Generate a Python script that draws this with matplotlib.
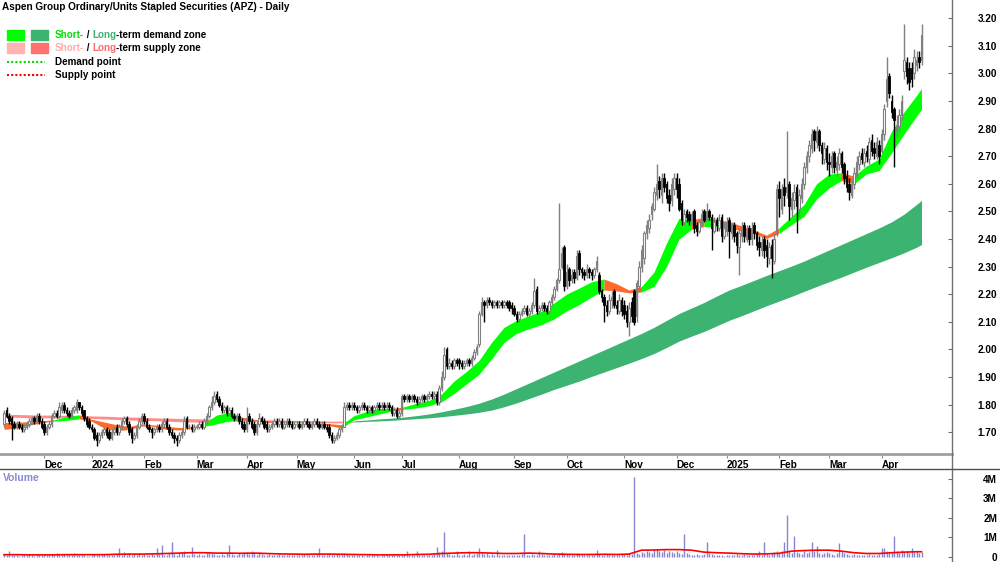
import numpy as np
import pandas as pd
import matplotlib
matplotlib.use("Agg")
import matplotlib.pyplot as plt
from matplotlib.patches import Rectangle
from matplotlib.lines import Line2D

plt.rcParams['font.family'] = ['Liberation Sans', 'DejaVu Sans']

TITLE = "Aspen Group Ordinary/Units Stapled Securities (APZ) - Daily"

# ASX trading calendar for the period shown
holidays = ['2023-12-25', '2023-12-26', '2024-01-01', '2024-01-26', '2024-03-29',
            '2024-04-01', '2024-04-25', '2024-06-10', '2024-12-25', '2024-12-26',
            '2025-01-01', '2025-01-27', '2025-04-18', '2025-04-21', '2025-04-25']
month_labels = ["Dec", "2024", "Feb", "Mar", "Apr", "May", "Jun", "Jul", "Aug", "Sep",
                "Oct", "Nov", "Dec", "2025", "Feb", "Mar", "Apr"]

# daily candles, one line per month (Nov 2023 .. Apr 2025)
opens = [
    1.73, 1.78, 1.76, 1.75, 1.73, 1.72, 1.73, 1.72, 1.71, 1.72, 1.73, 1.74, 1.75, 1.74, 1.76, 1.74,
    1.73, 1.70, 1.72, 1.73, 1.76, 1.77, 1.76, 1.78, 1.80, 1.78, 1.77, 1.76, 1.78, 1.78, 1.81, 1.79, 1.78, 1.75, 1.74,
    1.72, 1.71, 1.69, 1.67, 1.69, 1.70, 1.71, 1.70, 1.68, 1.70, 1.72, 1.70, 1.72, 1.74, 1.75, 1.73, 1.71, 1.68, 1.69, 1.72, 1.74,
    1.76, 1.74, 1.72, 1.71, 1.70, 1.71, 1.72, 1.71, 1.73, 1.74, 1.72, 1.70, 1.69, 1.68, 1.67, 1.69, 1.70, 1.75, 1.72, 1.72, 1.71,
    1.72, 1.72, 1.73, 1.72, 1.74, 1.76, 1.79, 1.81, 1.84, 1.82, 1.80, 1.78, 1.79, 1.77, 1.78, 1.76, 1.75, 1.76, 1.74, 1.73,
    1.71, 1.76, 1.74, 1.73, 1.70, 1.73, 1.75, 1.74, 1.73, 1.71, 1.72, 1.73, 1.74, 1.73, 1.74, 1.72, 1.73, 1.74, 1.73, 1.72,
    1.73, 1.73, 1.72, 1.73, 1.74, 1.73, 1.72, 1.73, 1.74, 1.73, 1.72, 1.73, 1.72, 1.72, 1.69, 1.67, 1.68, 1.69, 1.71, 1.72, 1.79, 1.80, 1.79,
    1.80, 1.79, 1.78, 1.79, 1.80, 1.79, 1.78, 1.79, 1.78, 1.79, 1.80, 1.79, 1.80, 1.79, 1.80, 1.79, 1.77, 1.78, 1.76,
    1.77, 1.83, 1.82, 1.83, 1.82, 1.83, 1.82, 1.81, 1.82, 1.83, 1.82, 1.83, 1.84, 1.83, 1.84, 1.81, 1.86, 1.90, 2.00, 1.94, 1.95, 1.94, 1.96,
    1.96, 1.95, 1.94, 1.95, 1.96, 1.95, 1.97, 1.99, 2.02, 2.13, 2.17, 2.16, 2.18, 2.17, 2.16, 2.17, 2.16, 2.17, 2.16, 2.17, 2.17, 2.16,
    2.15, 2.13, 2.11, 2.13, 2.14, 2.15, 2.13, 2.14, 2.16, 2.22, 2.14, 2.15, 2.16, 2.15, 2.14, 2.17, 2.19, 2.22, 2.25, 2.30, 2.37,
    2.23, 2.29, 2.25, 2.28, 2.26, 2.35, 2.29, 2.28, 2.27, 2.29, 2.28, 2.27, 2.29, 2.27, 2.21, 2.19, 2.16, 2.14, 2.18, 2.21, 2.16, 2.14, 2.18,
    2.16, 2.14, 2.10, 2.17, 2.21, 2.12, 2.23, 2.30, 2.33, 2.42, 2.44, 2.49, 2.51, 2.56, 2.61, 2.56, 2.62, 2.60, 2.56, 2.54, 2.58,
    2.62, 2.60, 2.53, 2.46, 2.50, 2.49, 2.46, 2.50, 2.45, 2.43, 2.46, 2.50, 2.47, 2.50, 2.48, 2.43, 2.47, 2.44, 2.48, 2.41,
    2.43, 2.47, 2.42, 2.45, 2.42, 2.37, 2.41, 2.45, 2.40, 2.44, 2.40, 2.45, 2.42, 2.39, 2.36, 2.40, 2.38, 2.33, 2.38, 2.32, 2.42,
    2.58, 2.51, 2.59, 2.57, 2.60, 2.51, 2.54, 2.59, 2.51, 2.55, 2.60, 2.66, 2.70, 2.73, 2.79, 2.75, 2.79, 2.74, 2.69, 2.73,
    2.68, 2.66, 2.71, 2.65, 2.67, 2.71, 2.67, 2.63, 2.60, 2.56, 2.60, 2.63, 2.67, 2.71, 2.68, 2.72, 2.69, 2.76, 2.73, 2.70, 2.74,
    2.72, 2.78, 2.90, 2.99, 2.90, 2.87, 2.79, 2.81, 2.85, 3.01, 3.04, 3.02, 3.02, 3.00, 3.03, 3.06, 3.05,
]
highs = [
    1.78, 1.79, 1.77, 1.76, 1.74, 1.74, 1.74, 1.73, 1.73, 1.74, 1.75, 1.76, 1.76, 1.77, 1.77, 1.75,
    1.74, 1.73, 1.74, 1.77, 1.78, 1.78, 1.81, 1.81, 1.81, 1.79, 1.78, 1.79, 1.80, 1.82, 1.81, 1.80, 1.78, 1.76, 1.75,
    1.73, 1.72, 1.70, 1.70, 1.71, 1.72, 1.72, 1.71, 1.71, 1.72, 1.73, 1.73, 1.75, 1.76, 1.76, 1.74, 1.72, 1.70, 1.73, 1.75, 1.77,
    1.77, 1.75, 1.73, 1.72, 1.72, 1.73, 1.73, 1.74, 1.75, 1.75, 1.73, 1.71, 1.70, 1.69, 1.70, 1.71, 1.76, 1.76, 1.73, 1.73, 1.73,
    1.73, 1.74, 1.74, 1.75, 1.77, 1.80, 1.83, 1.85, 1.85, 1.83, 1.81, 1.80, 1.80, 1.79, 1.79, 1.77, 1.77, 1.77, 1.75, 1.74,
    1.79, 1.77, 1.75, 1.74, 1.74, 1.77, 1.76, 1.75, 1.74, 1.73, 1.74, 1.75, 1.75, 1.75, 1.75, 1.74, 1.75, 1.75, 1.74, 1.74,
    1.74, 1.74, 1.74, 1.75, 1.75, 1.74, 1.74, 1.75, 1.75, 1.74, 1.74, 1.74, 1.73, 1.73, 1.70, 1.69, 1.70, 1.72, 1.73, 1.81, 1.81, 1.81, 1.81,
    1.81, 1.80, 1.80, 1.81, 1.81, 1.80, 1.80, 1.80, 1.80, 1.81, 1.81, 1.81, 1.81, 1.81, 1.81, 1.80, 1.79, 1.79, 1.78,
    1.84, 1.84, 1.84, 1.84, 1.84, 1.84, 1.83, 1.83, 1.84, 1.84, 1.84, 1.85, 1.85, 1.85, 1.85, 1.87, 1.92, 2.01, 2.01, 1.97, 1.96, 1.97, 1.97,
    1.97, 1.96, 1.96, 1.97, 1.97, 1.98, 2.00, 2.02, 2.14, 2.19, 2.18, 2.19, 2.19, 2.18, 2.18, 2.18, 2.18, 2.18, 2.18, 2.18, 2.18, 2.17,
    2.16, 2.14, 2.14, 2.15, 2.16, 2.16, 2.15, 2.17, 2.26, 2.23, 2.16, 2.17, 2.17, 2.16, 2.18, 2.20, 2.23, 2.26, 2.53, 2.37, 2.38,
    2.31, 2.30, 2.29, 2.29, 2.36, 2.36, 2.30, 2.29, 2.31, 2.30, 2.29, 2.30, 2.34, 2.28, 2.22, 2.20, 2.18, 2.20, 2.21, 2.22, 2.18, 2.20, 2.19,
    2.18, 2.16, 2.17, 2.19, 2.22, 2.25, 2.32, 2.38, 2.43, 2.47, 2.49, 2.53, 2.59, 2.67, 2.63, 2.64, 2.64, 2.61, 2.58, 2.62, 2.64,
    2.64, 2.62, 2.54, 2.51, 2.51, 2.50, 2.50, 2.51, 2.46, 2.47, 2.51, 2.51, 2.53, 2.51, 2.49, 2.48, 2.48, 2.49, 2.49, 2.46,
    2.48, 2.48, 2.46, 2.46, 2.43, 2.44, 2.46, 2.46, 2.45, 2.45, 2.46, 2.46, 2.43, 2.41, 2.41, 2.41, 2.40, 2.39, 2.40, 2.42, 2.60,
    2.61, 2.60, 2.62, 2.79, 2.61, 2.57, 2.60, 2.60, 2.58, 2.62, 2.68, 2.72, 2.76, 2.80, 2.80, 2.81, 2.80, 2.75, 2.75, 2.74,
    2.71, 2.72, 2.72, 2.70, 2.73, 2.72, 2.68, 2.65, 2.62, 2.62, 2.66, 2.70, 2.72, 2.73, 2.73, 2.74, 2.77, 2.78, 2.75, 2.77, 2.76,
    2.80, 2.89, 3.06, 3.00, 2.92, 2.88, 2.85, 2.87, 2.92, 3.18, 3.06, 3.04, 3.04, 3.09, 3.08, 3.08, 3.18,
]
lows = [
    1.72, 1.75, 1.73, 1.67, 1.71, 1.71, 1.71, 1.70, 1.70, 1.71, 1.72, 1.73, 1.73, 1.73, 1.73, 1.71,
    1.69, 1.69, 1.71, 1.72, 1.75, 1.75, 1.75, 1.77, 1.77, 1.76, 1.75, 1.75, 1.77, 1.77, 1.78, 1.76, 1.74, 1.72, 1.71,
    1.70, 1.67, 1.65, 1.66, 1.68, 1.69, 1.68, 1.67, 1.67, 1.69, 1.69, 1.69, 1.71, 1.73, 1.72, 1.69, 1.66, 1.67, 1.68, 1.71, 1.73,
    1.73, 1.71, 1.70, 1.68, 1.69, 1.70, 1.70, 1.70, 1.72, 1.71, 1.69, 1.68, 1.66, 1.65, 1.66, 1.68, 1.69, 1.71, 1.71, 1.70, 1.70,
    1.71, 1.71, 1.71, 1.71, 1.73, 1.75, 1.78, 1.80, 1.81, 1.79, 1.77, 1.77, 1.76, 1.76, 1.75, 1.74, 1.74, 1.73, 1.71, 1.70,
    1.70, 1.73, 1.71, 1.69, 1.69, 1.72, 1.73, 1.71, 1.70, 1.70, 1.71, 1.72, 1.72, 1.72, 1.71, 1.71, 1.72, 1.72, 1.71, 1.71,
    1.72, 1.71, 1.71, 1.72, 1.72, 1.71, 1.71, 1.72, 1.72, 1.71, 1.71, 1.71, 1.70, 1.68, 1.66, 1.66, 1.67, 1.68, 1.70, 1.72, 1.78, 1.78, 1.78,
    1.78, 1.77, 1.77, 1.78, 1.78, 1.77, 1.77, 1.77, 1.77, 1.78, 1.78, 1.78, 1.78, 1.78, 1.78, 1.76, 1.76, 1.75, 1.75,
    1.76, 1.81, 1.81, 1.81, 1.81, 1.81, 1.80, 1.80, 1.81, 1.81, 1.81, 1.82, 1.82, 1.82, 1.80, 1.80, 1.85, 1.89, 1.93, 1.93, 1.93, 1.93, 1.94,
    1.93, 1.93, 1.93, 1.94, 1.94, 1.94, 1.96, 1.98, 2.01, 2.12, 2.10, 2.15, 2.16, 2.15, 2.15, 2.15, 2.15, 2.15, 2.15, 2.15, 2.14, 2.13,
    2.12, 2.10, 2.10, 2.12, 2.13, 2.12, 2.12, 2.13, 2.15, 2.13, 2.13, 2.14, 2.14, 2.13, 2.13, 2.16, 2.18, 2.21, 2.24, 2.29, 2.21,
    2.22, 2.23, 2.24, 2.24, 2.25, 2.27, 2.26, 2.25, 2.26, 2.26, 2.25, 2.26, 2.28, 2.20, 2.17, 2.10, 2.12, 2.13, 2.15, 2.15, 2.13, 2.13, 2.12,
    2.11, 2.08, 2.05, 2.10, 2.09, 2.10, 2.21, 2.28, 2.31, 2.40, 2.42, 2.47, 2.50, 2.54, 2.55, 2.53, 2.57, 2.53, 2.50, 2.52, 2.56,
    2.55, 2.50, 2.45, 2.45, 2.46, 2.45, 2.45, 2.42, 2.41, 2.42, 2.45, 2.46, 2.46, 2.47, 2.36, 2.42, 2.43, 2.43, 2.39, 2.40,
    2.41, 2.33, 2.40, 2.39, 2.35, 2.27, 2.39, 2.39, 2.39, 2.38, 2.38, 2.40, 2.36, 2.34, 2.34, 2.33, 2.30, 2.31, 2.26, 2.31, 2.41,
    2.48, 2.49, 2.52, 2.55, 2.47, 2.48, 2.51, 2.42, 2.48, 2.53, 2.58, 2.64, 2.68, 2.71, 2.72, 2.73, 2.72, 2.67, 2.67, 2.65,
    2.63, 2.64, 2.64, 2.63, 2.65, 2.64, 2.60, 2.57, 2.54, 2.55, 2.58, 2.62, 2.65, 2.67, 2.66, 2.68, 2.67, 2.70, 2.69, 2.69, 2.67,
    2.71, 2.76, 2.88, 2.91, 2.84, 2.66, 2.77, 2.79, 2.83, 2.98, 2.96, 2.94, 2.95, 2.98, 3.01, 3.02, 3.03,
]
closes = [
    1.77, 1.76, 1.74, 1.73, 1.72, 1.73, 1.72, 1.71, 1.72, 1.73, 1.74, 1.75, 1.74, 1.76, 1.74, 1.72,
    1.70, 1.72, 1.73, 1.76, 1.77, 1.76, 1.79, 1.80, 1.78, 1.77, 1.76, 1.78, 1.79, 1.81, 1.79, 1.77, 1.75, 1.73, 1.72,
    1.71, 1.68, 1.67, 1.69, 1.70, 1.71, 1.69, 1.68, 1.70, 1.71, 1.70, 1.72, 1.74, 1.75, 1.73, 1.70, 1.68, 1.69, 1.72, 1.74, 1.76,
    1.74, 1.72, 1.71, 1.70, 1.71, 1.72, 1.71, 1.73, 1.74, 1.72, 1.70, 1.69, 1.68, 1.67, 1.69, 1.70, 1.74, 1.72, 1.72, 1.71, 1.72,
    1.72, 1.73, 1.72, 1.74, 1.76, 1.79, 1.81, 1.83, 1.82, 1.80, 1.78, 1.79, 1.77, 1.78, 1.76, 1.75, 1.76, 1.74, 1.72, 1.71,
    1.75, 1.74, 1.72, 1.70, 1.73, 1.75, 1.74, 1.72, 1.71, 1.72, 1.73, 1.74, 1.73, 1.74, 1.72, 1.73, 1.74, 1.73, 1.72, 1.73,
    1.73, 1.72, 1.73, 1.74, 1.73, 1.72, 1.73, 1.74, 1.73, 1.72, 1.73, 1.72, 1.71, 1.69, 1.67, 1.68, 1.69, 1.71, 1.72, 1.79, 1.80, 1.79, 1.80,
    1.79, 1.78, 1.79, 1.80, 1.79, 1.78, 1.79, 1.78, 1.79, 1.80, 1.79, 1.80, 1.79, 1.80, 1.79, 1.77, 1.78, 1.76, 1.77,
    1.83, 1.82, 1.83, 1.82, 1.83, 1.82, 1.81, 1.82, 1.83, 1.82, 1.83, 1.84, 1.83, 1.84, 1.81, 1.86, 1.90, 1.98, 1.94, 1.95, 1.94, 1.96, 1.95,
    1.95, 1.94, 1.95, 1.96, 1.95, 1.97, 1.99, 2.01, 2.13, 2.17, 2.16, 2.18, 2.17, 2.16, 2.17, 2.16, 2.17, 2.16, 2.17, 2.16, 2.15, 2.15,
    2.13, 2.11, 2.13, 2.14, 2.15, 2.13, 2.14, 2.16, 2.21, 2.14, 2.15, 2.16, 2.15, 2.14, 2.17, 2.19, 2.22, 2.25, 2.29, 2.35, 2.23,
    2.28, 2.25, 2.27, 2.26, 2.34, 2.29, 2.28, 2.27, 2.29, 2.28, 2.27, 2.29, 2.32, 2.21, 2.19, 2.16, 2.14, 2.18, 2.19, 2.16, 2.15, 2.18, 2.14,
    2.13, 2.10, 2.15, 2.12, 2.10, 2.24, 2.30, 2.36, 2.42, 2.45, 2.47, 2.52, 2.57, 2.60, 2.58, 2.62, 2.59, 2.55, 2.53, 2.60, 2.62,
    2.58, 2.51, 2.47, 2.49, 2.48, 2.47, 2.49, 2.44, 2.43, 2.46, 2.49, 2.47, 2.50, 2.48, 2.44, 2.46, 2.45, 2.47, 2.41, 2.44,
    2.46, 2.43, 2.45, 2.41, 2.38, 2.42, 2.44, 2.41, 2.43, 2.40, 2.44, 2.42, 2.38, 2.37, 2.39, 2.36, 2.34, 2.37, 2.33, 2.40, 2.58,
    2.55, 2.58, 2.56, 2.59, 2.52, 2.55, 2.57, 2.52, 2.56, 2.60, 2.66, 2.70, 2.74, 2.78, 2.76, 2.79, 2.74, 2.71, 2.73, 2.68,
    2.67, 2.70, 2.66, 2.68, 2.71, 2.66, 2.62, 2.59, 2.57, 2.60, 2.64, 2.68, 2.70, 2.69, 2.71, 2.70, 2.75, 2.72, 2.71, 2.75, 2.70,
    2.78, 2.87, 2.98, 2.93, 2.86, 2.83, 2.81, 2.85, 2.90, 3.05, 2.99, 2.97, 2.98, 3.06, 3.05, 3.04, 3.14,
]
# daily volume, millions of units
volumes = [
    0.15, 0.1, 0.3, 0.12, 0.08, 0.1, 0.05, 0.12, 0.1, 0.08, 0.15, 0.1, 0.06, 0.12, 0.1, 0.08,
    0.1, 0.08, 0.12, 0.15, 0.1, 0.2, 0.12, 0.1, 0.15, 0.08, 0.12, 0.1, 0.18, 0.12, 0.1, 0.08, 0.12, 0.06, 0.05,
    0.12, 0.15, 0.1, 0.12, 0.1, 0.15, 0.12, 0.1, 0.08, 0.12, 0.15, 0.46, 0.1, 0.25, 0.12, 0.2, 0.1, 0.15, 0.1, 0.2, 0.12,
    0.15, 0.12, 0.1, 0.2, 0.12, 0.46, 0.15, 0.6, 0.12, 0.1, 0.2, 0.77, 0.15, 0.12, 0.2, 0.25, 0.3, 0.12, 0.1, 0.5, 0.15,
    0.12, 0.15, 0.1, 0.12, 0.2, 0.25, 0.2, 0.15, 0.12, 0.1, 0.15, 0.12, 0.2, 0.6, 0.15, 0.12, 0.1, 0.2, 0.15, 0.25,
    0.25, 0.15, 0.3, 0.2, 0.12, 0.25, 0.15, 0.12, 0.1, 0.15, 0.12, 0.1, 0.12, 0.15, 0.1, 0.12, 0.08, 0.1, 0.12, 0.1,
    0.1, 0.12, 0.1, 0.15, 0.12, 0.1, 0.08, 0.12, 0.15, 0.46, 0.12, 0.1, 0.08, 0.15, 0.12, 0.1, 0.15, 0.12, 0.1, 0.2, 0.15, 0.1, 0.12,
    0.1, 0.08, 0.12, 0.1, 0.06, 0.08, 0.1, 0.12, 0.08, 0.1, 0.06, 0.08, 0.1, 0.12, 0.1, 0.08, 0.1, 0.12, 0.1,
    0.12, 0.15, 0.3, 0.1, 0.08, 0.12, 0.3, 0.1, 0.08, 0.1, 0.12, 0.1, 0.08, 0.15, 0.5, 0.25, 0.3, 1.28, 0.2, 0.15, 0.12, 0.1, 0.3,
    0.1, 0.12, 0.15, 0.1, 0.3, 0.12, 0.15, 0.2, 0.45, 0.25, 0.15, 0.2, 0.12, 0.15, 0.1, 0.35, 0.12, 0.1, 0.08, 0.1, 0.12, 0.1,
    0.1, 0.12, 0.08, 0.15, 1.18, 0.12, 0.1, 0.15, 0.12, 0.1, 0.3, 0.15, 0.12, 0.1, 0.08, 0.12, 0.15, 0.1, 0.2, 0.25, 0.15,
    0.15, 0.1, 0.12, 0.08, 0.2, 0.15, 0.1, 0.12, 0.08, 0.1, 0.12, 0.1, 0.35, 0.15, 0.12, 0.1, 0.15, 0.12, 0.1, 0.08, 0.12, 0.1, 0.15,
    0.15, 0.12, 0.2, 0.15, 4.1, 0.2, 0.15, 0.25, 0.2, 0.3, 0.25, 0.2, 0.35, 0.4, 0.3, 0.25, 0.35, 0.2, 0.3, 0.25, 0.2,
    0.3, 0.2, 0.15, 1.18, 0.2, 0.15, 0.12, 0.1, 0.15, 0.12, 0.1, 0.15, 0.77, 0.2, 0.15, 0.12, 0.1, 0.08, 0.1, 0.06,
    0.1, 0.12, 0.1, 0.08, 0.15, 0.12, 0.1, 0.15, 0.12, 0.1, 0.08, 0.12, 0.15, 0.3, 0.12, 0.77, 0.15, 0.12, 0.2, 0.25, 0.3,
    0.2, 0.3, 0.75, 2.15, 0.3, 0.2, 1.1, 0.25, 0.2, 0.15, 0.3, 0.2, 0.25, 0.75, 0.3, 0.55, 0.2, 0.15, 0.2, 0.25,
    0.2, 0.15, 0.12, 0.2, 0.7, 0.3, 0.2, 0.15, 0.12, 0.1, 0.15, 0.12, 0.1, 0.08, 0.12, 0.1, 0.15, 0.12, 0.1, 0.12, 0.15,
    0.45, 0.45, 0.3, 0.2, 0.25, 1.1, 0.3, 0.2, 0.35, 0.25, 0.3, 0.2, 0.45, 0.25, 0.3, 0.2, 0.25,
]

# zone edges, sampled every 5th trading day (plus the last day)
st_upper = [1.735, 1.736, 1.738, 1.741, 1.745, 1.756, 1.763, 1.747, 1.737, 1.727, 1.721, 1.730,
            1.726, 1.721, 1.717, 1.718, 1.732, 1.762, 1.772, 1.755, 1.746, 1.742, 1.738, 1.736,
            1.736, 1.734, 1.731, 1.727, 1.760, 1.775, 1.786, 1.785, 1.792, 1.805, 1.815, 1.838, 1.885,
            1.920, 1.960, 2.025, 2.080, 2.105, 2.122, 2.138, 2.168, 2.200, 2.222, 2.245, 2.255, 2.238,
            2.215, 2.228, 2.280, 2.385, 2.475, 2.470, 2.478, 2.472, 2.462, 2.448, 2.432, 2.414,
            2.440, 2.482, 2.525, 2.600, 2.635, 2.640, 2.628, 2.665, 2.690, 2.790, 2.860, 2.920, 2.945]
st_lower = [1.710, 1.715, 1.725, 1.735, 1.740, 1.743, 1.748, 1.740, 1.715, 1.705, 1.710, 1.722,
            1.721, 1.710, 1.708, 1.716, 1.721, 1.730, 1.741, 1.746, 1.741, 1.736, 1.735, 1.735,
            1.734, 1.733, 1.724, 1.715, 1.745, 1.755, 1.766, 1.776, 1.783, 1.788, 1.796, 1.810, 1.840,
            1.875, 1.910, 1.965, 2.025, 2.058, 2.075, 2.090, 2.110, 2.140, 2.162, 2.190, 2.215, 2.212,
            2.205, 2.208, 2.228, 2.300, 2.400, 2.435, 2.445, 2.445, 2.440, 2.430, 2.420, 2.402,
            2.420, 2.452, 2.482, 2.545, 2.585, 2.612, 2.600, 2.636, 2.648, 2.712, 2.780, 2.845, 2.870]
lt_upper = [1.765, 1.764, 1.763, 1.762, 1.762, 1.761, 1.760, 1.759, 1.758, 1.756, 1.755, 1.754,
            1.752, 1.751, 1.750, 1.749, 1.748, 1.748, 1.747, 1.747, 1.746, 1.745, 1.744, 1.743,
            1.742, 1.741, 1.740, 1.740, 1.741, 1.744, 1.748, 1.751, 1.755, 1.760, 1.766, 1.774, 1.783,
            1.793, 1.805, 1.820, 1.838, 1.858, 1.878, 1.898, 1.918, 1.938, 1.958, 1.978, 1.998, 2.018,
            2.038, 2.058, 2.080, 2.105, 2.130, 2.150, 2.170, 2.193, 2.215, 2.232, 2.250, 2.268,
            2.285, 2.302, 2.320, 2.340, 2.360, 2.380, 2.400, 2.420, 2.440, 2.462, 2.490, 2.525, 2.540]
lt_lower = [1.755, 1.754, 1.752, 1.752, 1.752, 1.752, 1.752, 1.750, 1.748, 1.746, 1.744, 1.743,
            1.742, 1.740, 1.738, 1.737, 1.736, 1.738, 1.740, 1.741, 1.741, 1.740, 1.738, 1.737,
            1.736, 1.735, 1.734, 1.734, 1.737, 1.739, 1.741, 1.743, 1.746, 1.749, 1.752, 1.756, 1.761,
            1.766, 1.772, 1.780, 1.792, 1.806, 1.822, 1.838, 1.855, 1.870, 1.885, 1.902, 1.918, 1.934,
            1.950, 1.967, 1.985, 2.007, 2.030, 2.048, 2.065, 2.085, 2.105, 2.122, 2.140, 2.158,
            2.175, 2.192, 2.210, 2.228, 2.245, 2.262, 2.280, 2.298, 2.315, 2.332, 2.350, 2.370, 2.380]
# d = demand, s = supply, one letter per stretch between samples
st_state = "ssssddssssssssssdddsssddsssddddsddddddddddddddddsssddddsdsssssdddddsdddddd"
lt_state = "ssssssssssssssssssssssssssssdddddddddddddddddddddddddddddddddddddddddddddd"
# volume average, same sampling as the zones (millions)
vol_avg = [0.12, 0.12, 0.11, 0.11, 0.11, 0.12, 0.12, 0.12, 0.12, 0.14, 0.15, 0.15,
           0.16, 0.18, 0.20, 0.22, 0.22, 0.20, 0.20, 0.19, 0.20, 0.18, 0.16, 0.15,
           0.14, 0.15, 0.15, 0.14, 0.13, 0.12, 0.11, 0.11, 0.11, 0.13, 0.14, 0.18, 0.20,
           0.22, 0.22, 0.20, 0.18, 0.18, 0.20, 0.18, 0.15, 0.14, 0.13, 0.13, 0.14, 0.13,
           0.15, 0.35, 0.36, 0.38, 0.38, 0.35, 0.25, 0.22, 0.20, 0.17, 0.15, 0.16,
           0.19, 0.30, 0.33, 0.35, 0.35, 0.30, 0.22, 0.18, 0.18, 0.22, 0.25, 0.27, 0.27]

C_ST_D, C_LT_D = '#00ff00', '#3cb371'
C_ST_S, C_LT_S = '#ff6a2a', '#ff8c8c'

days = pd.bdate_range('2023-11-09', '2025-04-28')
days = days[~days.isin(pd.to_datetime(holidays))]
o, h, l, c = (np.array(v) for v in (opens, highs, lows, closes))
x = np.arange(len(c))
zone_x = np.r_[np.arange(0, len(c) - 2, 5), len(c) - 1]

W, H = 1000, 562
fig = plt.figure(figsize=(W / 100, H / 100), dpi=100)
ax = fig.add_axes([0, 1 - 454 / H, 952 / W, 454 / H])
axv = fig.add_axes([0, 0, 952 / W, 93 / H])


def draw_zone(upper, lower, states, c_dem, c_sup):
    up, lo = np.array(upper), np.array(lower)
    k = 0
    while k < len(states):
        j = k
        while j < len(states) and states[j] == states[k]:
            j += 1
        ax.fill_between(zone_x[k:j + 1], lo[k:j + 1], up[k:j + 1], lw=0, zorder=1,
                        color=c_dem if states[k] == 'd' else c_sup)
        k = j


draw_zone(lt_upper, lt_lower, lt_state, C_LT_D, C_LT_S)
draw_zone(st_upper, st_lower, st_state, C_ST_D, C_ST_S)

# candles
rise = c >= o
ax.vlines(x[rise], l[rise], h[rise], color='#808080', lw=1.0, zorder=3)
ax.vlines(x[~rise], l[~rise], h[~rise], color='black', lw=1.0, zorder=3)
ax.bar(x[rise], c[rise] - o[rise], bottom=o[rise], width=0.75, facecolor='white',
       edgecolor='#808080', lw=0.8, zorder=4)
ax.bar(x[~rise], o[~rise] - c[~rise], bottom=c[~rise], width=0.75, color='black',
       edgecolor='black', lw=0.6, zorder=4)

ax.set_xlim(-1.6, 379.2)
ax.set_ylim(1.621, 3.266)
axv.set_xlim(-1.6, 379.2)
axv.set_ylim(-0.256, 4.51)

# month ticks at first trading day of each month
first = pd.Series(x, index=days).groupby([days.year, days.month]).first().values[1:]
ax.set_xticks(first)
ax.set_xticklabels(month_labels, ha='left', fontweight='bold')
ax.tick_params(axis='x', direction='out', length=3, color='#909090', pad=1, labelsize=7.2)

ax.yaxis.tick_right()
ticks = np.round(np.arange(1.7, 3.201, 0.1), 2)
ax.set_yticks(ticks)
ax.set_yticklabels([f"{t:.2f}" for t in ticks], fontweight='bold')
ax.tick_params(axis='y', direction='in', length=3, color='#707070', pad=32.4, labelsize=7.2)
for t in ax.get_yticklabels():
    t.set_ha('right')
for s in ('left', 'top', 'right'):
    ax.spines[s].set_visible(False)
ax.spines['bottom'].set_color('#a0a0a0')
ax.spines['bottom'].set_linewidth(2)

# volume
axv.vlines(x, 0, volumes, color='#8585d0', lw=1)
axv.plot(zone_x, vol_avg, color='#ff0000', lw=1.2)
axv.set_xticks([])
axv.yaxis.tick_right()
axv.set_yticks([0, 1, 2, 3, 4])
axv.set_yticklabels(['0', '1M', '2M', '3M', '4M'], fontweight='bold')
axv.tick_params(axis='y', direction='in', length=3, color='#707070', pad=32.4, labelsize=7.2)
for t in axv.get_yticklabels():
    t.set_ha('right')
for s in axv.spines.values():
    s.set_visible(False)

fig.add_artist(Line2D([952 / W, 952 / W], [0, 1], color='#707070', lw=1))
fig.add_artist(Line2D([0, 1], [1 - 469 / H, 1 - 469 / H], color='#505050', lw=1))

fig.text(2 / W, 1 - 7 / H, TITLE, fontsize=7.2, fontweight='bold', va='center')
fig.text(3 / W, 1 - 478 / H, "Volume", fontsize=7.5, fontweight='bold', va='center', color='#8a8ad2')

# legend
renderer = fig.canvas.get_renderer()
FS = 7.1


def text_width(s):
    # bars on both sides so spaces count
    t1 = fig.text(0, 0, "|" + s + "|", fontsize=FS, fontweight='bold')
    t2 = fig.text(0, 0, "||", fontsize=FS, fontweight='bold')
    w = t1.get_window_extent(renderer).width - t2.get_window_extent(renderer).width
    t1.remove()
    t2.remove()
    return w


def colored_line(x0, y0, parts):
    prefix = ""
    for s, col in parts:
        fig.text((x0 + text_width(prefix)) / W, 1 - y0 / H, s, color=col, fontsize=FS,
                 fontweight='bold', va='center')
        prefix += s


def box(x0, y0, col):
    fig.add_artist(Rectangle((x0 / W, 1 - (y0 + 10) / H), 17 / W, 10 / H, color=col,
                             transform=fig.transFigure))


box(7, 30, C_ST_D)
box(31, 30, C_LT_D)
box(7, 43, '#ffb3b3')
box(31, 43, '#ff7070')
colored_line(55, 35, [("Short-", '#00e000'), (" / ", 'black'), ("Long", C_LT_D),
                      ("-term demand zone", 'black')])
colored_line(55, 48, [("Short-", '#ffaaaa'), (" / ", 'black'), ("Long", '#ff6b6b'),
                      ("-term supply zone", 'black')])
fig.add_artist(Line2D([7 / W, 45 / W], [1 - 62 / H] * 2, color='#00e000', lw=1.5,
                      linestyle=(0, (1, 1))))
fig.add_artist(Line2D([7 / W, 45 / W], [1 - 75 / H] * 2, color='#ff0000', lw=1.5,
                      linestyle=(0, (1, 1))))
colored_line(55, 62, [("Demand point", 'black')])
colored_line(55, 75, [("Supply point", 'black')])

fig.savefig("out.png", dpi=100)
